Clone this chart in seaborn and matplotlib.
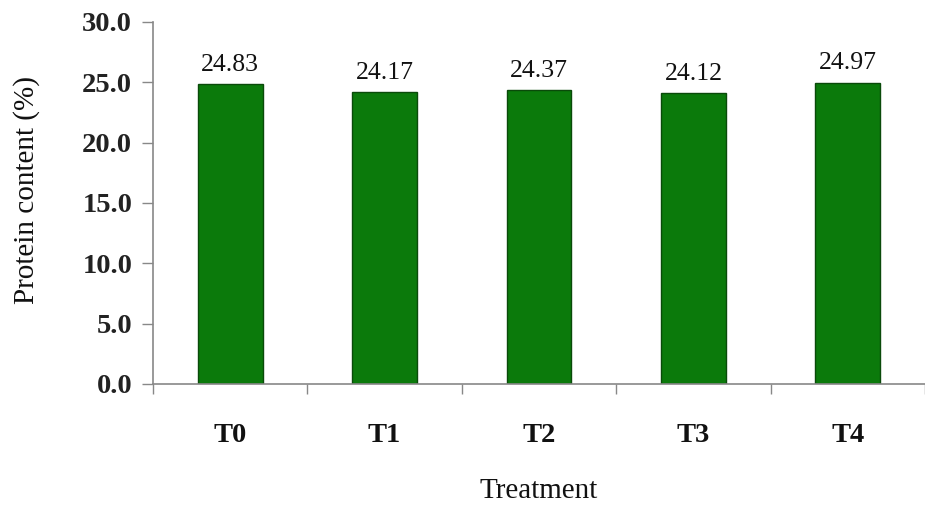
import matplotlib
matplotlib.use("Agg")
import matplotlib.pyplot as plt
import seaborn as sns
import pandas as pd
import numpy as np

treatments = ["T0", "T1", "T2", "T3", "T4"]
protein = [24.83, 24.17, 24.37, 24.12, 24.97]
y_ticks = [0, 5, 10, 15, 20, 25, 30]

sns.set_style("white")
plt.rcParams["font.family"] = ["Liberation Serif", "DejaVu Serif"]

df = pd.DataFrame({"Treatment": treatments, "Protein": protein})

fig = plt.figure(figsize=(9.25, 5.09), dpi=100)
ax = fig.add_axes([0.1654, 0.2456, 0.8346, 0.7112])

sns.barplot(data=df, x="Treatment", y="Protein", color="#0b7a0b",
            width=0.42, edgecolor="#0a4a0a", linewidth=1.0, saturation=1,
            ax=ax)

ax.bar_label(ax.containers[0], fmt="%.2f", padding=6, fontsize=18.5,
             color="#111111")

ax.set_ylim(0, 30)
ax.set_xlim(-0.5, len(treatments) - 0.5)
ax.set_yticks(y_ticks)
ax.set_yticklabels([f"{v:.1f}" for v in y_ticks], fontsize=20.5,
                   fontweight="bold", color="#222222")

# category labels sit between boundary tick marks
ax.set_xticks(np.arange(len(treatments) + 1) - 0.5)
ax.set_xticklabels([""] * (len(treatments) + 1))
ax.set_xticks(np.arange(len(treatments)), minor=True)
ax.set_xticklabels(treatments, minor=True, fontsize=20.5, fontweight="bold",
                   color="#111111")
ax.tick_params(axis="x", which="major", length=7, width=1, color="#888888",
               direction="out", bottom=True)
ax.tick_params(axis="x", which="minor", length=0, pad=28, bottom=True)
ax.tick_params(axis="y", length=8, width=1, color="#888888",
               direction="out", left=True, pad=7)

ax.set_xlabel("Treatment", fontsize=21, color="#111111", labelpad=22)
ax.set_ylabel("Protein content (%)", fontsize=21, color="#111111")
ax.yaxis.set_label_coords(-0.146, 0.536)

for side in ["top", "right"]:
    ax.spines[side].set_visible(False)
for side in ["left", "bottom"]:
    ax.spines[side].set_color("#888888")
    ax.spines[side].set_linewidth(1.2)

fig.savefig("out.png", dpi=100)
